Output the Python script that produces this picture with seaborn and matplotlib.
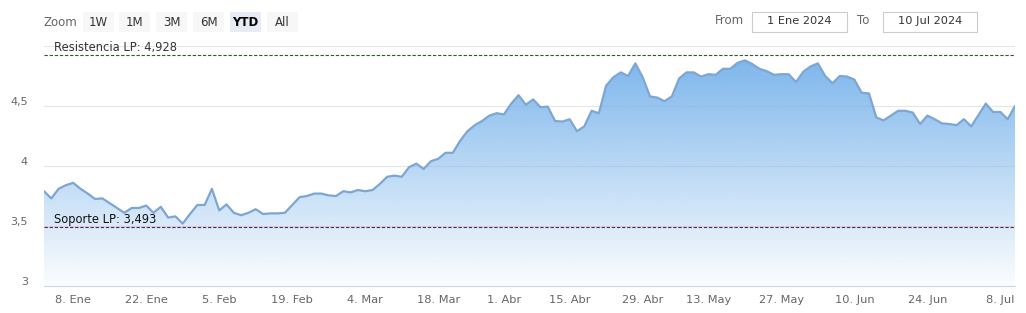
import matplotlib
matplotlib.use("Agg")
import matplotlib.pyplot as plt
import matplotlib.transforms as mtransforms
from matplotlib.patches import FancyBboxPatch, Rectangle
import numpy as np
import pandas as pd
import seaborn as sns

# ---------------- data ----------------
holidays = ["2024-03-29", "2024-04-01", "2024-05-01"]
dates = pd.bdate_range("2024-01-02", "2024-07-10")
dates = dates[~dates.isin(pd.to_datetime(holidays))]

values = [
    3.79, 3.73, 3.81, 3.84, 3.86, 3.81, 3.77, 3.725, 3.73, 3.69,
    3.65, 3.61, 3.65, 3.65, 3.67, 3.61, 3.66, 3.57, 3.58, 3.52,
    3.60, 3.675, 3.675, 3.81, 3.63, 3.68, 3.61, 3.59, 3.61, 3.64,
    3.60, 3.605, 3.605, 3.61, 3.675, 3.74, 3.75, 3.77, 3.77, 3.755,
    3.75, 3.79, 3.78, 3.80, 3.79, 3.80, 3.85, 3.91, 3.92, 3.91,
    3.99, 4.02, 3.975, 4.04, 4.06, 4.11, 4.11, 4.21, 4.29, 4.34,
    4.375, 4.42, 4.44, 4.43, 4.52, 4.59, 4.51, 4.555, 4.49, 4.495,
    4.375, 4.37, 4.39, 4.29, 4.33, 4.46, 4.44, 4.67, 4.74, 4.78,
    4.75, 4.855, 4.74, 4.58, 4.57, 4.54, 4.58, 4.73, 4.78, 4.78,
    4.745, 4.765, 4.76, 4.81, 4.81, 4.86, 4.88, 4.85, 4.81, 4.79,
    4.76, 4.765, 4.765, 4.70, 4.785, 4.83, 4.855, 4.75, 4.69, 4.75,
    4.745, 4.72, 4.61, 4.605, 4.405, 4.38, 4.42, 4.46, 4.46, 4.445,
    4.35, 4.42, 4.39, 4.355, 4.35, 4.34, 4.39, 4.33, 4.425, 4.52,
    4.45, 4.45, 4.39, 4.50,
]

tick_dates = ["2024-01-08", "2024-01-22", "2024-02-05", "2024-02-19", "2024-03-04",
              "2024-03-18", "2024-04-01", "2024-04-15", "2024-04-29", "2024-05-13",
              "2024-05-27", "2024-06-10", "2024-06-24", "2024-07-08"]
tick_labels = ["8. Ene", "22. Ene", "5. Feb", "19. Feb", "4. Mar", "18. Mar", "1. Abr",
               "15. Abr", "29. Abr", "13. May", "27. May", "10. Jun", "24. Jun", "8. Jul"]

y_ticks = [3, 3.5, 4, 4.5, 5]
y_tick_labels = ["3", "3,5", "4", "4,5", ""]

resistencia = 4.928
soporte = 3.493
resistencia_label = "Resistencia LP: 4,928"
soporte_label = "Soporte LP: 3,493"

zoom_buttons = ["1W", "1M", "3M", "6M", "YTD", "All"]
selected_button = "YTD"
date_from = "1 Ene 2024"
date_to = "10 Jul 2024"

# ---------------- figure ----------------
sns.set_style("white")
plt.rcParams["font.family"] = ["DejaVu Sans"]

W, H = 1026, 313
fig = plt.figure(figsize=(W / 100, H / 100), dpi=100)
fig.patch.set_facecolor("white")


def fx(x):
    return x / W


def fy(y):
    return 1 - y / H


ax = fig.add_axes([fx(44), fy(286), 971 / W, 240 / H])
ax.set_facecolor("white")

df = pd.DataFrame({"idx": np.arange(len(dates)), "value": values})

base_rgb = np.array([124, 181, 236]) / 255.0
line_color = "#7ea6d2"

sns.lineplot(data=df, x="idx", y="value", ax=ax, color=line_color, lw=1.6, zorder=4)

# gradient fill under the line
poly = ax.fill_between(df["idx"], df["value"], 3, color="none", lw=0)
n = 256
grad = np.zeros((n, 1, 4))
grad[:, 0, :3] = base_rgb
grad[:, 0, 3] = np.linspace(0.98, 0.03, n)
ymax = max(values)
im = ax.imshow(grad, extent=[0, len(values) - 1, 3, ymax], aspect="auto",
               origin="upper", zorder=2, interpolation="bilinear")
im.set_clip_path(poly.get_paths()[0], transform=ax.transData)

# reference lines
ax.axhline(resistencia, color="#2f5a2f", lw=0.8, ls=(0, (3, 1.6)), zorder=5)
ax.axhline(soporte, color="#6e1c45", lw=0.8, ls=(0, (3, 1.6)), zorder=5)
ax.annotate(resistencia_label, xy=(0, resistencia), xycoords=("axes fraction", "data"),
            xytext=(7.5, 0.3), textcoords="offset points", ha="left", va="bottom",
            fontsize=8.3, color="#333333", zorder=6)
ax.annotate(soporte_label, xy=(0, soporte), xycoords=("axes fraction", "data"),
            xytext=(7.5, 0.3), textcoords="offset points", ha="left", va="bottom",
            fontsize=8.3, color="#111111", zorder=6)

# axes setup
ax.set_xlim(0, len(values) - 1)
ax.set_ylim(3, 5)
tick_pos = [int(np.searchsorted(dates.values, np.datetime64(d))) for d in tick_dates]
ax.set_xticks(tick_pos)
ax.set_xticklabels(tick_labels)
ax.set_yticks(y_ticks)
ax.set_yticklabels(y_tick_labels)
ax.set_xlabel("")
ax.set_ylabel("")

ax.yaxis.grid(True, color="#e6e6e6", lw=0.8)
ax.xaxis.grid(False)
ax.set_axisbelow(True)
for s in ["top", "left", "right"]:
    ax.spines[s].set_visible(False)
ax.spines["bottom"].set_color("#ccd6eb")
ax.spines["bottom"].set_linewidth(0.8)

ax.tick_params(axis="x", direction="out", length=5.8, width=0.8, color="#ccd6eb",
               labelcolor="#666666", labelsize=8.2, pad=0.5)
ax.tick_params(axis="y", length=0, labelcolor="#666666", labelsize=8, pad=11.5)
off = mtransforms.ScaledTranslation(0, 5 / 100, fig.dpi_scale_trans)
for lab in ax.get_yticklabels():
    lab.set_transform(lab.get_transform() + off)

# ---------------- range selector UI ----------------
fig.text(fx(43), fy(22), "Zoom", ha="left", va="center", fontsize=8.5, color="#666666")
btn_x = [83, 119, 156, 193, 230, 267]
for bx, lab in zip(btn_x, zoom_buttons):
    sel = lab == selected_button
    fig.patches.append(FancyBboxPatch((fx(bx), fy(32)), fx(31), 20 / H,
                                      boxstyle="round,pad=0,rounding_size=0.002",
                                      transform=fig.transFigure, facecolor="#e6ebf5" if sel else "#f7f7f7",
                                      edgecolor="none", zorder=1))
    fig.text(fx(bx + 15.5), fy(22), lab, ha="center", va="center", fontsize=8.5,
             color="#000000" if sel else "#333333", fontweight="bold" if sel else "normal")

fig.text(fx(715), fy(21), "From", ha="left", va="center", fontsize=8.5, color="#666666")
fig.patches.append(Rectangle((fx(752), fy(32)), fx(95), 20 / H, transform=fig.transFigure,
                             facecolor="white", edgecolor="#cccccc", lw=0.8))
fig.text(fx(799.5), fy(21.5), date_from, ha="center", va="center", fontsize=8.2, color="#333333")
fig.text(fx(857), fy(21), "To", ha="left", va="center", fontsize=8.5, color="#666666")
fig.patches.append(Rectangle((fx(883), fy(32)), fx(94), 20 / H, transform=fig.transFigure,
                             facecolor="white", edgecolor="#cccccc", lw=0.8))
fig.text(fx(930), fy(21.5), date_to, ha="center", va="center", fontsize=8.2, color="#333333")

fig.savefig("out.png", dpi=100, facecolor="white")
